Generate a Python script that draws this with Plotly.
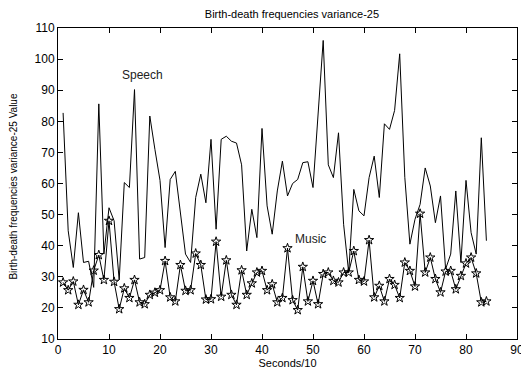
import plotly.graph_objects as go

seconds = list(range(1, 85))
speech = [82.7, 44.8, 33, 50.6, 34.6, 35, 26.6, 85.6, 37.3, 52.2,
          48, 29, 60.3, 58.7, 90.2, 35.7, 36.2, 81.7, 71, 61,
          39.4, 61.3, 63.9, 50, 37.3, 34.6, 55.5, 63, 53.8, 74.2,
          45.3, 74.2, 75.2, 73.6, 73, 66, 38.3, 51.7, 42.6, 77.7,
          52.8, 43.7, 57.6, 67.2, 56, 60, 61.3, 66.7, 67, 58.7,
          82, 106, 66, 61.9, 76.3, 46.9, 31.4, 58.1, 51.2, 49.6,
          61.9, 68.8, 55.5, 79.2, 77.4, 83.5, 101.7, 62, 40.5, 48.5,
          53.3, 65, 59.2, 47.4, 56, 32.5, 37.3, 57.6, 34.6, 61,
          44.2, 37.3, 74.7, 41.6]
music = [28.2, 25.7, 28.5, 21, 25.8, 21.8, 32, 37, 29, 48,
         28.4, 19.6, 26.3, 23.2, 29, 21.8, 21.2, 24.2, 24.9, 25.7,
         35.1, 23.4, 22.1, 33.8, 25.5, 25.7, 37.5, 33.8, 22.7, 22.8,
         41.3, 23.6, 35.3, 24.2, 21, 32.1, 24.2, 27.9, 31.4, 31.9,
         25.7, 27.6, 21.8, 23.2, 39.2, 22.5, 19.3, 33.2, 22.1, 28.7,
         21.2, 30.9, 31.4, 28.7, 28.2, 31.4, 31.4, 38.3, 29, 28.5,
         41.8, 23.4, 27.1, 22.1, 29.3, 27.4, 23.2, 34.6, 31.9, 26.9,
         50.3, 31.4, 36.2, 29.3, 25, 31.7, 31.9, 26, 30.3, 34.3,
         36.2, 31.1, 21.8, 22.1]

x_ticks = [0, 10, 20, 30, 40, 50, 60, 70, 80, 90]
y_ticks = [10, 20, 30, 40, 50, 60, 70, 80, 90, 100, 110]

FONT = "Liberation Sans, Arial"

fig = go.Figure()
fig.add_trace(go.Scatter(x=seconds, y=speech, mode="lines", name="Speech",
                         line=dict(color="black", width=1)))
fig.add_trace(go.Scatter(x=seconds, y=music, mode="lines+markers", name="Music",
                         line=dict(color="black", width=1),
                         marker=dict(symbol="star-open", size=7, color="black",
                                     line=dict(color="black", width=1))))

fig.add_annotation(x=16.5, y=95, text="Speech", showarrow=False,
                   font=dict(family=FONT, size=12, color="#222"))
fig.add_annotation(x=49.5, y=42.3, text="Music", showarrow=False,
                   font=dict(family=FONT, size=12, color="#222"))
fig.add_annotation(xref="paper", yref="paper", x=-0.096, y=0.49,
                   text="Birth-death frequencies variance-25 Value",
                   textangle=-90, showarrow=False, xanchor="center", yanchor="middle",
                   font=dict(family=FONT, size=10, color="black"))

axis_common = dict(showline=True, linecolor="black", linewidth=1, mirror="ticks",
                   ticks="inside", ticklen=5, tickcolor="black", showgrid=False,
                   zeroline=False, automargin=False,
                   tickfont=dict(family=FONT, size=12, color="black"))

fig.update_layout(
    width=521, height=366,
    margin=dict(l=50, r=12, t=20, b=35),
    paper_bgcolor="white", plot_bgcolor="white",
    showlegend=False,
    title=dict(text="Birth-death frequencies variance-25", x=0.545, xanchor="center",
               y=0.983, yanchor="middle",
               font=dict(family=FONT, size=11, color="black")),
    xaxis=dict(range=[0, 90], tickvals=x_ticks,
               title=dict(text="Seconds/10", standoff=2,
                          font=dict(family=FONT, size=11, color="black")),
               **axis_common),
    yaxis=dict(range=[10, 110], tickvals=y_ticks, **axis_common),
)

fig.write_html("out.html")
